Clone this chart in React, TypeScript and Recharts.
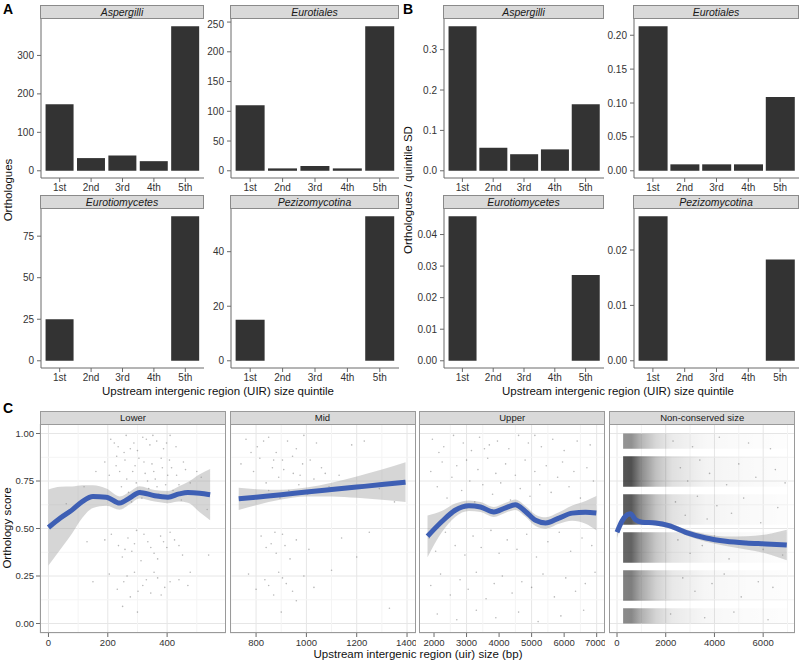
import React from "react";
import {
  BarChart,
  Bar,
  XAxis,
  YAxis,
  ComposedChart,
  Scatter,
  Line,
  Area,
  CartesianGrid,
  ReferenceLine,
  ReferenceArea,
} from "recharts";

const FONT = '"Liberation Sans", Arial, Helvetica, sans-serif';

const quintiles = ["1st", "2nd", "3rd", "4th", "5th"];

// panel A - orthologues per quintile
const aspergilliCounts = [173, 33, 40, 25, 376];
const eurotialesCounts = [110, 4, 8, 4, 243];
const eurotiomycetesCounts = [25, 0, 0, 0, 87];
const pezizomycotinaCounts = [15, 0, 0, 0, 53];

const aspergilliCountTicks = [0, 100, 200, 300];
const eurotialesCountTicks = [0, 50, 100, 150, 200, 250];
const eurotiomycetesCountTicks = [0, 25, 50, 75];
const pezizomycotinaCountTicks = [0, 20, 40];

// panel B - orthologues / quintile SD
const aspergilliRatio = [0.358, 0.057, 0.041, 0.053, 0.165];
const eurotialesRatio = [0.2133, 0.0095, 0.0095, 0.0095, 0.109];
const eurotiomycetesRatio = [0.0458, 0, 0, 0, 0.0272];
const pezizomycotinaRatio = [0.0261, 0, 0, 0, 0.0183];

const aspergilliRatioTicks = [0, 0.1, 0.2, 0.3];
const eurotialesRatioTicks = [0, 0.05, 0.1, 0.15, 0.2];
const eurotiomycetesRatioTicks = [0, 0.01, 0.02, 0.03, 0.04];
const pezizomycotinaRatioTicks = [0, 0.01, 0.02];

// panel C - orthology score vs UIR size
const scoreTicks = [0, 0.25, 0.5, 0.75, 1];
const scoreMinor = [0.125, 0.375, 0.625, 0.875];

const lowerRange = [0, 570];
const lowerTicks = [0, 200, 400];
const lowerMinor = [100, 300, 500];
const lowerSmoothX = [0, 40, 80, 115, 150, 195, 240, 275, 307, 358, 403, 440, 470, 510, 545];
const lowerSmoothFit = [0.505, 0.555, 0.598, 0.643, 0.668, 0.665, 0.634, 0.662, 0.69, 0.672, 0.665, 0.682, 0.69, 0.686, 0.678];
const lowerSmoothHalf = [0.2, 0.165, 0.123, 0.085, 0.06, 0.045, 0.035, 0.033, 0.032, 0.03, 0.032, 0.04, 0.055, 0.1, 0.135];
const lowerPoints = [
  [210, 0.97], [235, 0.93], [262, 0.99], [288, 0.95], [300, 0.91], [318, 0.98], [342, 0.94], [365, 0.96], [388, 0.92], [410, 0.99], [255, 0.9], [330, 0.97],
  [222, 0.95], [276, 0.92], [352, 0.99], [398, 0.95], [430, 0.93],
  [190, 0.85], [205, 0.78], [228, 0.83], [246, 0.72], [258, 0.86], [270, 0.69], [284, 0.8], [296, 0.74], [305, 0.87], [315, 0.66], [326, 0.79], [338, 0.71],
  [349, 0.84], [360, 0.76], [372, 0.68], [384, 0.82], [395, 0.73], [408, 0.86], [420, 0.7], [432, 0.78], [448, 0.65], [462, 0.81], [478, 0.74], [515, 0.77],
  [240, 0.8], [264, 0.76], [292, 0.83], [310, 0.7], [322, 0.85], [334, 0.75], [355, 0.8], [366, 0.72], [380, 0.87], [402, 0.78], [415, 0.82], [440, 0.73],
  [455, 0.85], [470, 0.69], [500, 0.8], [230, 0.88], [280, 0.64],
  [160, 0.8], [120, 0.72], [60, 0.63], [535, 0.6],
  [212, 0.47], [236, 0.41], [249, 0.35], [268, 0.45], [281, 0.38], [297, 0.49], [312, 0.33], [335, 0.43], [356, 0.37], [378, 0.46], [399, 0.4], [425, 0.44], [452, 0.36],
  [258, 0.39], [290, 0.42], [322, 0.47], [345, 0.4], [368, 0.34], [388, 0.43], [410, 0.48], [440, 0.41], [190, 0.44],
  [205, 0.26], [232, 0.18], [254, 0.22], [276, 0.14], [290, 0.27], [318, 0.2], [345, 0.16], [368, 0.24], [392, 0.19], [440, 0.23], [478, 0.27], [150, 0.22],
  [265, 0.25], [302, 0.17], [330, 0.23], [356, 0.27], [380, 0.15], [410, 0.22], [470, 0.2],
  [300, 0.06], [250, 0.09], [130, 0.43], [540, 0.36],
];

const midRange = [730, 1402];
const midTicks = [800, 1000, 1200, 1400];
const midMinor = [700, 900, 1100, 1300];
const midSmoothX = [731, 800, 900, 1000, 1100, 1200, 1300, 1394];
const midSmoothFit = [0.656, 0.665, 0.678, 0.692, 0.705, 0.718, 0.731, 0.744];
const midSmoothHalf = [0.058, 0.042, 0.026, 0.024, 0.036, 0.056, 0.08, 0.105];
const midPoints = [
  [760, 0.97], [805, 0.93], [850, 0.98], [880, 0.9], [925, 0.96], [960, 0.92], [990, 0.99], [1040, 0.95], [1180, 0.94], [1230, 0.96],
  [780, 0.9], [830, 0.96], [870, 0.86], [910, 0.81], [945, 0.88], [975, 0.78], [1015, 0.86], [1075, 0.79], [850, 0.7], [895, 0.66],
  [740, 0.84], [790, 0.8], [815, 0.87], [840, 0.74], [865, 0.82], [890, 0.77], [905, 0.86], [930, 0.7], [948, 0.79], [970, 0.73],
  [985, 0.84], [1005, 0.68], [1030, 0.76], [1060, 0.82], [1090, 0.72], [1130, 0.78], [1290, 0.71], [1350, 0.64],
  [820, 0.46], [860, 0.42], [880, 0.37], [905, 0.47], [935, 0.34], [960, 0.44], [1010, 0.39], [1140, 0.45], [1250, 0.48],
  [840, 0.4], [875, 0.48], [915, 0.41], [1200, 0.35],
  [770, 0.26], [800, 0.18], [835, 0.23], [870, 0.15], [890, 0.27], [920, 0.21], [960, 0.12], [990, 0.25], [1030, 0.19], [1100, 0.28], [1330, 0.08], [900, 0.06],
  [850, 0.2], [905, 0.24], [945, 0.17],
];

const upperRange = [1798, 6996];
const upperTicks = [2000, 3000, 4000, 5000, 6000, 7000];
const upperMinor = [2500, 3500, 4500, 5500, 6500];
const upperSmoothX = [1800, 2250, 2650, 3070, 3430, 3840, 4200, 4500, 4810, 5120, 5430, 5840, 6250, 6660, 6990];
const upperSmoothFit = [0.459, 0.538, 0.596, 0.62, 0.613, 0.587, 0.609, 0.625, 0.59, 0.543, 0.529, 0.555, 0.581, 0.585, 0.581];
const upperSmoothHalf = [0.11, 0.055, 0.035, 0.028, 0.026, 0.026, 0.026, 0.027, 0.028, 0.03, 0.03, 0.03, 0.04, 0.06, 0.09];
const upperPoints = [
  [1950, 0.97], [2300, 0.93], [2600, 0.99], [2900, 0.95], [3150, 0.91], [3400, 0.98], [3700, 0.94], [3950, 0.96], [4300, 0.92], [4600, 0.99],
  [4900, 0.95], [5300, 0.93], [5650, 0.97], [6000, 0.91], [6400, 0.96], [6800, 0.94], [2150, 0.9], [3550, 0.92], [5100, 0.99],
  [1900, 0.8], [2100, 0.72], [2250, 0.85], [2400, 0.66], [2550, 0.77], [2700, 0.83], [2850, 0.7], [3000, 0.86], [3100, 0.75], [3250, 0.64],
  [3350, 0.81], [3500, 0.73], [3650, 0.87], [3800, 0.68], [3900, 0.79], [4050, 0.74], [4200, 0.84], [4350, 0.65], [4500, 0.78], [4650, 0.71],
  [4800, 0.86], [4950, 0.67], [5100, 0.8], [5250, 0.73], [5450, 0.83], [5600, 0.69], [5800, 0.77], [5950, 0.85], [6150, 0.72], [6300, 0.8],
  [6500, 0.66], [6700, 0.82], [6900, 0.75],
  [1850, 0.45], [2050, 0.38], [2350, 0.48], [2650, 0.41], [2950, 0.36], [3200, 0.46], [3450, 0.4], [3750, 0.49], [4000, 0.37], [4250, 0.44],
  [4550, 0.39], [4850, 0.47], [5150, 0.35], [5500, 0.43], [5850, 0.48], [6200, 0.38], [6550, 0.45], [6850, 0.41],
  [1900, 0.2], [2200, 0.26], [2500, 0.15], [2800, 0.23], [3050, 0.18], [3300, 0.27], [3600, 0.13], [3850, 0.21], [4100, 0.25], [4400, 0.16],
  [4700, 0.22], [5000, 0.19], [5350, 0.26], [5700, 0.14], [6050, 0.24], [6350, 0.17], [6650, 0.21], [6950, 0.27],
  [2100, 0.05], [2700, 0.02], [3300, 0.07], [3900, 0.03], [4600, 0.06], [5200, 0.01], [5900, 0.04], [6600, 0.07],
];

const nonRange = [18, 6960];
const nonTicks = [0, 2000, 4000, 6000];
const nonMinor = [1000, 3000, 5000, 7000];
const nonSmoothX = [0, 200, 410, 550, 760, 1030, 1580, 2130, 2820, 3650, 4470, 5300, 6120, 6970];
const nonSmoothFit = [0.48, 0.538, 0.572, 0.578, 0.546, 0.533, 0.529, 0.515, 0.48, 0.45, 0.433, 0.424, 0.419, 0.413];
const nonSmoothHalf = [0.03, 0.02, 0.015, 0.012, 0.012, 0.012, 0.013, 0.014, 0.016, 0.02, 0.025, 0.035, 0.05, 0.08];
// dense jittered score bands (too many points to list), drawn as shaded strips
const nonBandLow = [0.92, 0.72, 0.52, 0.32, 0.12, 0.0];
const nonBandHigh = [1.0, 0.88, 0.68, 0.48, 0.28, 0.08];
const nonBandStrength = [0.6, 0.95, 0.9, 0.85, 0.7, 0.65];
const nonBandX = [250, 7000];
const nonPoints = [
  [2300, 0.96], [3100, 0.93], [4200, 0.98], [5400, 0.95], [6300, 0.92], [2600, 0.82], [2900, 0.75], [3400, 0.86], [3800, 0.79], [4500, 0.73],
  [5000, 0.84], [5700, 0.77], [6500, 0.81], [6900, 0.74], [2400, 0.64], [2800, 0.57], [3300, 0.67], [3700, 0.55], [4100, 0.62], [4700, 0.58],
  [5200, 0.66], [5900, 0.53], [6600, 0.61], [2500, 0.44], [3000, 0.37], [3500, 0.41], [4000, 0.46], [4600, 0.34], [5300, 0.43], [6000, 0.39],
  [6800, 0.36], [2700, 0.24], [3200, 0.17], [3900, 0.21], [4400, 0.26], [5100, 0.14], [5800, 0.22], [6400, 0.19], [2200, 0.05], [3600, 0.03],
  [4800, 0.06], [6200, 0.02],
];

const AXIS = "#6b6b6b";
const TEXT = "#333333";

const BarFacet = ({ title, values, ticks, digits, left, right, top }: any) => {
  const data = quintiles.map((q, i) => ({ q, v: values[i] }));
  const max = Math.max(...values);
  const yw = 36;
  const stripH = 14;
  const plotH = 159;
  return (
    <>
      <div
        style={{
          position: "absolute",
          left: left - 1,
          top,
          width: right - left + 1,
          height: stripH,
          boxSizing: "border-box",
          background: "#d9d9d9",
          border: "1px solid #8a8a8a",
          font: `italic 10.5px ${FONT}`,
          lineHeight: `${stripH - 2}px`,
          textAlign: "center",
          color: "#1a1a1a",
        }}
      >
        {title}
      </div>
      <div style={{ position: "absolute", left: left - yw, top: top + stripH }}>
        <BarChart
          width={right - left + yw}
          height={plotH + 22}
          data={data}
          margin={{ top: 0, right: 0, bottom: 0, left: 0 }}
          barCategoryGap="5%"
        >
          <XAxis
            dataKey="q"
            height={22}
            interval={0}
            padding={{ left: 3, right: 3 }}
            tickSize={4}
            tickMargin={2}
            axisLine={{ stroke: AXIS }}
            tickLine={{ stroke: AXIS }}
            tick={{ fontSize: 10, fill: TEXT, fontFamily: FONT }}
          />
          <YAxis
            width={yw}
            type="number"
            domain={[-0.05 * max, 1.05 * max]}
            allowDataOverflow
            ticks={ticks}
            tickFormatter={(v: number) => v.toFixed(digits)}
            tickSize={4}
            tickMargin={3}
            axisLine={{ stroke: AXIS }}
            tickLine={{ stroke: AXIS }}
            tick={{ fontSize: 10, fill: TEXT, fontFamily: FONT }}
          />
          <Bar dataKey="v" fill="#333333" isAnimationActive={false} />
        </BarChart>
      </div>
    </>
  );
};

const dotShape = (p: any) => (
  <circle cx={p.cx} cy={p.cy} r={0.8} fill="#000" fillOpacity={0.28} />
);

const C_TOP = 423.5;
const C_H = 209;
const C_W = 186;

const ScatterFacet = ({ title, left, showY, range, ticks, minor, sx, fit, half, points, bands }: any) => {
  const span = range[1] - range[0];
  const domain = [range[0] - 0.05 * span, range[1] + 0.05 * span];
  const smooth = sx.map((x: number, i: number) => ({
    x,
    fit: fit[i],
    band: [fit[i] - half[i], fit[i] + half[i]],
  }));
  const pts = points.map((p: number[]) => ({ x: p[0], y: p[1] }));
  const yw = showY ? 34 : 0;
  return (
    <>
      <div
        style={{
          position: "absolute",
          left,
          top: C_TOP - 13,
          width: C_W,
          height: 13,
          boxSizing: "border-box",
          background: "#d9d9d9",
          border: "1px solid #9a9a9a",
          borderBottom: "none",
          font: `9.5px ${FONT}`,
          lineHeight: "12px",
          textAlign: "center",
          color: "#1a1a1a",
        }}
      >
        {title}
      </div>
      <div style={{ position: "absolute", left: left - yw, top: C_TOP }}>
        <ComposedChart width={C_W + yw} height={C_H + 22} margin={{ top: 0, right: 0, bottom: 0, left: 0 }}>
          <CartesianGrid stroke="#e6e6e6" />
          {minor.map((m: number) => (
            <ReferenceLine key={"vx" + m} x={m} stroke="#f4f4f4" ifOverflow="hidden" zIndex={-90} />
          ))}
          {scoreMinor.map((m) => (
            <ReferenceLine key={"hy" + m} y={m} stroke="#f4f4f4" zIndex={-90} />
          ))}
          <XAxis
            dataKey="x"
            type="number"
            domain={domain}
            allowDataOverflow
            ticks={ticks}
            height={22}
            tickSize={4}
            tickMargin={2}
            axisLine={false}
            tickLine={{ stroke: AXIS }}
            tick={{ fontSize: 9.5, fill: TEXT, fontFamily: FONT }}
          />
          <YAxis
            type="number"
            domain={[-0.05, 1.05]}
            allowDataOverflow
            ticks={scoreTicks}
            hide={!showY}
            width={yw}
            tickFormatter={(v: number) => v.toFixed(2)}
            tickSize={4}
            tickMargin={2}
            axisLine={false}
            tickLine={{ stroke: AXIS }}
            tick={{ fontSize: 9.5, fill: TEXT, fontFamily: FONT }}
          />
          {bands &&
            nonBandLow.map((lo, i) => (
              <ReferenceArea
                key={"band" + i}
                x1={nonBandX[0]}
                x2={nonBandX[1]}
                y1={lo}
                y2={nonBandHigh[i]}
                fill="url(#nonFade)"
                fillOpacity={nonBandStrength[i]}
                stroke="none"
                zIndex={40}
              />
            ))}
          <Scatter data={pts} dataKey="y" shape={dotShape} isAnimationActive={false} zIndex={50} />
          <Area
            data={smooth}
            dataKey="band"
            type="monotone"
            fill="#999999"
            fillOpacity={0.4}
            stroke="none"
            isAnimationActive={false}
            zIndex={100}
          />
          <Line
            data={smooth}
            dataKey="fit"
            type="monotone"
            stroke="#3e5fb4"
            strokeWidth={5}
            dot={false}
            isAnimationActive={false}
            zIndex={400}
          />
        </ComposedChart>
      </div>
      <div
        style={{
          position: "absolute",
          left,
          top: C_TOP,
          width: C_W,
          height: C_H,
          boxSizing: "border-box",
          border: "1px solid #9a9a9a",
          pointerEvents: "none",
        }}
      />
    </>
  );
};

const Label = ({ text, x, y, size = 11.5, rotate = false }: any) => (
  <div
    style={{
      position: "absolute",
      left: x,
      top: y,
      transform: `translate(-50%, -50%)${rotate ? " rotate(-90deg)" : ""}`,
      whiteSpace: "nowrap",
      font: `${size}px ${FONT}`,
      lineHeight: 1,
      color: "#111",
    }}
  >
    {text}
  </div>
);

const Letter = ({ text, x, y }: any) => (
  <div style={{ position: "absolute", left: x, top: y, font: `bold 14px ${FONT}`, lineHeight: 1, color: "#000" }}>
    {text}
  </div>
);

export default function App() {
  return (
    <div style={{ position: "absolute", left: 0, top: 0, width: 800, height: 666, background: "#fff", overflow: "hidden" }}>
      <svg width={0} height={0} style={{ position: "absolute" }}>
        <defs>
          <linearGradient id="nonFade" x1="0" y1="0" x2="1" y2="0">
            <stop offset="0" stopColor="#000" stopOpacity={0.7} />
            <stop offset="0.05" stopColor="#000" stopOpacity={0.72} />
            <stop offset="0.11" stopColor="#000" stopOpacity={0.48} />
            <stop offset="0.2" stopColor="#000" stopOpacity={0.26} />
            <stop offset="0.3" stopColor="#000" stopOpacity={0.13} />
            <stop offset="0.5" stopColor="#000" stopOpacity={0.05} />
            <stop offset="0.75" stopColor="#000" stopOpacity={0.025} />
            <stop offset="1" stopColor="#000" stopOpacity={0.012} />
          </linearGradient>
        </defs>
      </svg>

      <Letter text="A" x={3} y={2} />
      <Letter text="B" x={403} y={2} />
      <Letter text="C" x={3} y={401} />

      <BarFacet title="Aspergilli" values={aspergilliCounts} ticks={aspergilliCountTicks} digits={0} left={41} right={204} top={5} />
      <BarFacet title="Eurotiales" values={eurotialesCounts} ticks={eurotialesCountTicks} digits={0} left={231} right={399} top={5} />
      <BarFacet title="Eurotiomycetes" values={eurotiomycetesCounts} ticks={eurotiomycetesCountTicks} digits={0} left={41} right={204} top={195} />
      <BarFacet title="Pezizomycotina" values={pezizomycotinaCounts} ticks={pezizomycotinaCountTicks} digits={0} left={231} right={399} top={195} />

      <BarFacet title="Aspergilli" values={aspergilliRatio} ticks={aspergilliRatioTicks} digits={1} left={444} right={604} top={5} />
      <BarFacet title="Eurotiales" values={eurotialesRatio} ticks={eurotialesRatioTicks} digits={2} left={634} right={799} top={5} />
      <BarFacet title="Eurotiomycetes" values={eurotiomycetesRatio} ticks={eurotiomycetesRatioTicks} digits={2} left={444} right={604} top={195} />
      <BarFacet title="Pezizomycotina" values={pezizomycotinaRatio} ticks={pezizomycotinaRatioTicks} digits={2} left={634} right={799} top={195} />

      <Label text="Orthologues" x={9} y={190} rotate />
      <Label text="Upstream intergenic region (UIR) size quintile" x={218} y={392} />
      <Label text="Orthologues / quintile SD" x={409} y={190} rotate />
      <Label text="Upstream intergenic region (UIR) size quintile" x={618} y={392} />

      <ScatterFacet title="Lower" left={40} showY range={lowerRange} ticks={lowerTicks} minor={lowerMinor}
        sx={lowerSmoothX} fit={lowerSmoothFit} half={lowerSmoothHalf} points={lowerPoints} />
      <ScatterFacet title="Mid" left={229.5} range={midRange} ticks={midTicks} minor={midMinor}
        sx={midSmoothX} fit={midSmoothFit} half={midSmoothHalf} points={midPoints} />
      <ScatterFacet title="Upper" left={419.2} range={upperRange} ticks={upperTicks} minor={upperMinor}
        sx={upperSmoothX} fit={upperSmoothFit} half={upperSmoothHalf} points={upperPoints} />
      <ScatterFacet title="Non-conserved size" left={609.2} range={nonRange} ticks={nonTicks} minor={nonMinor}
        sx={nonSmoothX} fit={nonSmoothFit} half={nonSmoothHalf} points={nonPoints} bands />

      <Label text="Orthology score" x={8} y={528} rotate />
      <Label text="Upstream intergenic region (uir) size (bp)" x={418} y={655} />
    </div>
  );
}
